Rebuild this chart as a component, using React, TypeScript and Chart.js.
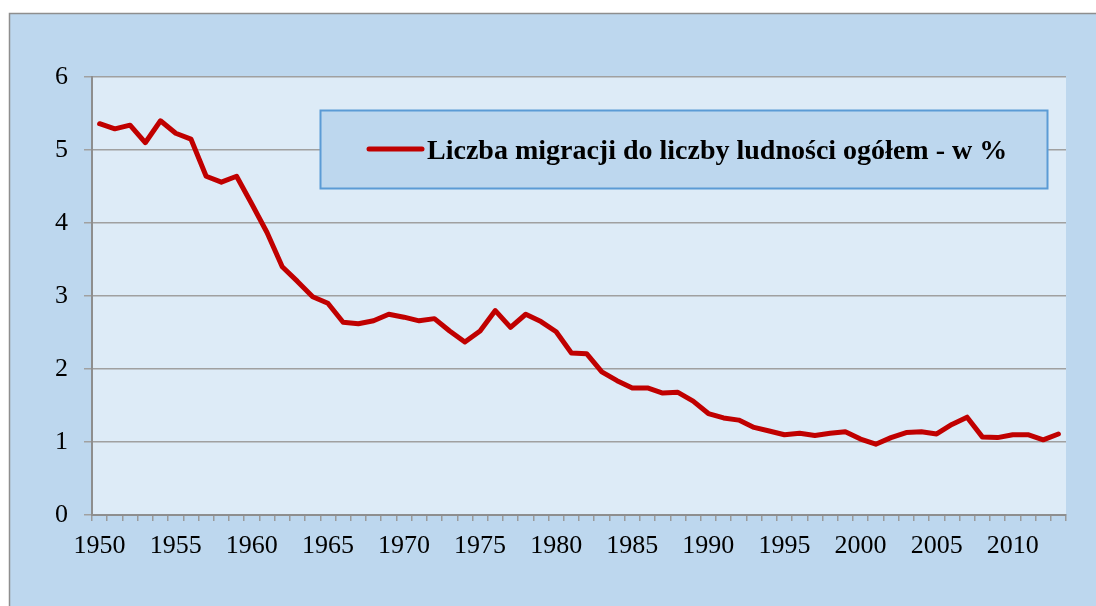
import React, { useEffect, useRef } from "react";
import { Chart, registerables } from "chart.js";

Chart.register(...registerables);

const years: string[] = [];
for (let y = 1950; y <= 2013; y++) years.push(String(y));

const seriesLabel = "Liczba migracji do liczby ludności ogółem - w %";
const values: number[] = [
  5.36, 5.29, 5.34, 5.1, 5.4, 5.23, 5.15, 4.64, 4.56, 4.64,
  4.26, 3.87, 3.4, 3.2, 2.99, 2.9, 2.64, 2.62, 2.66, 2.75,
  2.71, 2.66, 2.69, 2.52, 2.37, 2.52, 2.8, 2.57, 2.75, 2.65,
  2.51, 2.22, 2.21, 1.96, 1.84, 1.74, 1.74, 1.67, 1.68, 1.56,
  1.39, 1.33, 1.3, 1.2, 1.15, 1.1, 1.12, 1.09, 1.12, 1.14,
  1.04, 0.97, 1.06, 1.13, 1.14, 1.11, 1.24, 1.34, 1.07, 1.06,
  1.1, 1.1, 1.03, 1.11,
];

const FONT = "'Liberation Serif', 'Times New Roman', serif";

const backgroundPlugin = {
  id: "bgPlugin",
  beforeDraw(chart: any) {
    const { ctx, chartArea } = chart;
    ctx.save();
    ctx.fillStyle = "#ffffff";
    ctx.fillRect(0, 0, chart.width, chart.height);
    ctx.fillStyle = "#BDD7EE";
    ctx.fillRect(9.5, 13.5, chart.width, chart.height);
    ctx.strokeStyle = "#8E8E8E";
    ctx.lineWidth = 1.5;
    ctx.strokeRect(9.5, 13.5, chart.width + 10, chart.height + 10);
    ctx.fillStyle = "#DDEBF7";
    ctx.fillRect(
      chartArea.left,
      chartArea.top,
      chartArea.right - chartArea.left,
      chartArea.bottom - chartArea.top
    );
    ctx.restore();
  },
};

const legendBoxPlugin = {
  id: "legendBox",
  afterDraw(chart: any) {
    const { ctx } = chart;
    const ds = chart.data.datasets[0];
    ctx.save();
    ctx.fillStyle = "#BDD7EE";
    ctx.fillRect(320.5, 110.5, 727, 78);
    ctx.strokeStyle = "#5B9BD5";
    ctx.lineWidth = 2;
    ctx.strokeRect(320.5, 110.5, 727, 78);
    ctx.strokeStyle = ds.borderColor;
    ctx.lineWidth = 5;
    ctx.lineCap = "round";
    ctx.beginPath();
    ctx.moveTo(369, 149);
    ctx.lineTo(422, 149);
    ctx.stroke();
    ctx.fillStyle = "#000000";
    ctx.font = `bold 28px ${FONT}`;
    ctx.textBaseline = "alphabetic";
    ctx.textAlign = "left";
    ctx.fillText(ds.label, 427, 159);
    ctx.restore();
  },
};

export default function App() {
  const canvasRef = useRef<HTMLCanvasElement | null>(null);

  useEffect(() => {
    if (!canvasRef.current) return;
    const chart = new Chart(canvasRef.current, {
      type: "line",
      data: {
        labels: years,
        datasets: [
          {
            label: seriesLabel,
            data: values,
            borderColor: "#C00000",
            backgroundColor: "#C00000",
            borderWidth: 5,
            pointRadius: 0,
            tension: 0,
            borderJoinStyle: "round",
            borderCapStyle: "round",
          },
        ],
      },
      options: {
        responsive: false,
        animation: false,
        layout: { padding: { top: 77, right: 30, left: 0, bottom: 0 } },
        plugins: {
          legend: { display: false },
          tooltip: { enabled: false },
        },
        scales: {
          x: {
            type: "category",
            offset: true,
            afterFit(scale: any) {
              scale.height = 91;
            },
            grid: {
              offset: true,
              drawOnChartArea: false,
              drawTicks: true,
              tickLength: 6,
              color: "#9A9A9A",
              lineWidth: 1.5,
            },
            border: { color: "#8E8E8E", width: 2 },
            ticks: {
              autoSkip: false,
              maxRotation: 0,
              minRotation: 0,
              padding: 10,
              color: "#000000",
              font: { family: FONT, size: 26 },
              callback(value: any, index: number) {
                const y = Number(years[index]);
                return y % 5 === 0 ? String(y) : "";
              },
            },
          },
          y: {
            min: 0,
            max: 6,
            afterFit(scale: any) {
              scale.width = 92;
            },
            grid: {
              color: "#A0A0A0",
              lineWidth: 1.5,
              tickLength: 8,
            },
            border: { color: "#8E8E8E", width: 2 },
            ticks: {
              stepSize: 1,
              padding: 16,
              color: "#000000",
              font: { family: FONT, size: 26 },
            },
          },
        },
      },
      plugins: [backgroundPlugin, legendBoxPlugin],
    });
    return () => chart.destroy();
  }, []);

  return (
    <div style={{ position: "fixed", left: 0, top: 0, width: 1096, height: 606 }}>
      <canvas ref={canvasRef} width={1096} height={606} style={{ display: "block" }} />
    </div>
  );
}
